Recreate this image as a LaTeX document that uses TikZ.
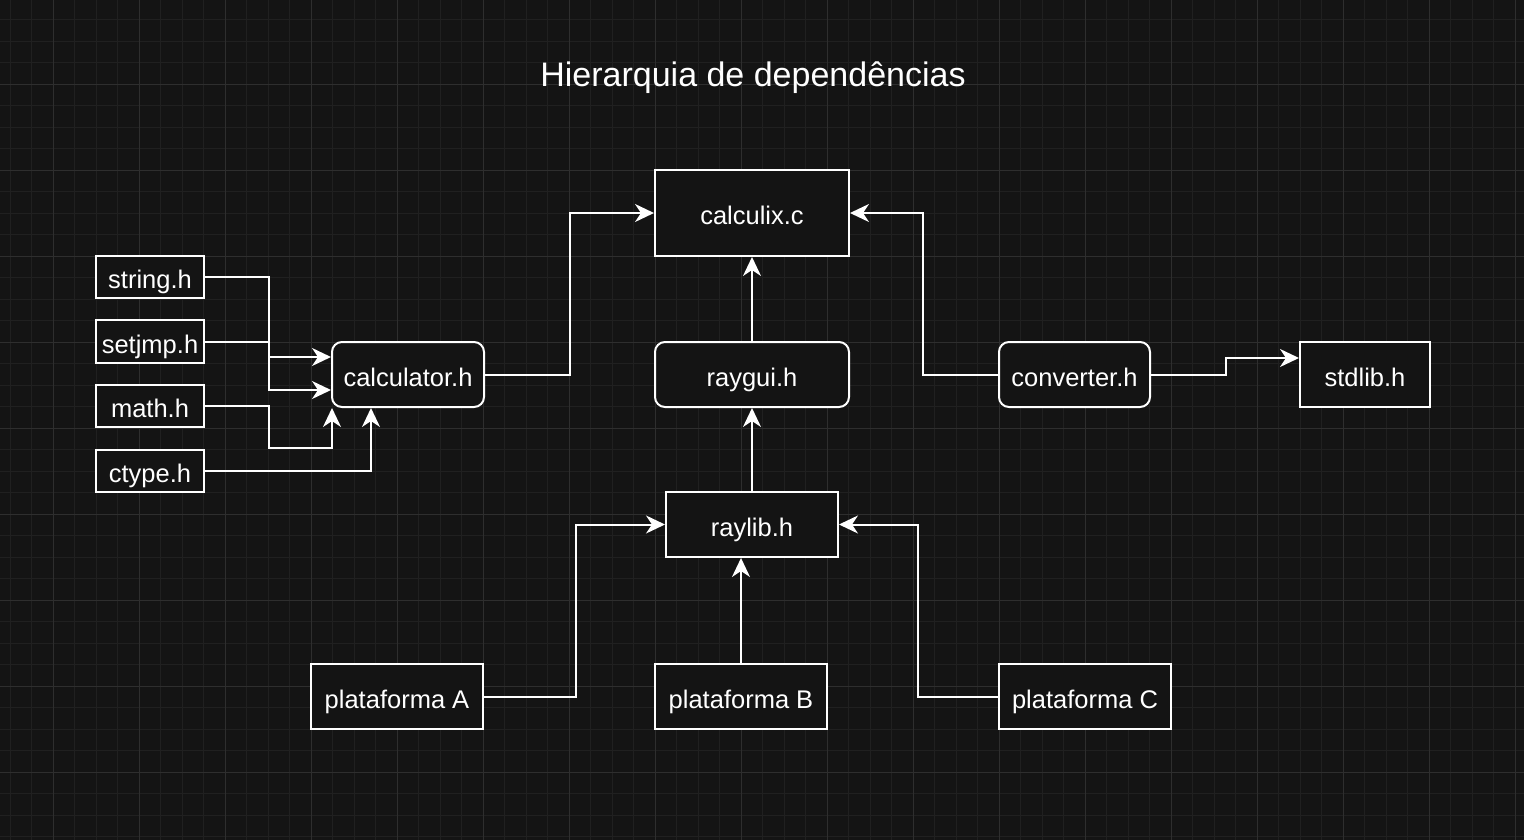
\documentclass[tikz,border=0pt]{standalone}
\usepackage{fontspec}
\setmainfont{Liberation Sans}
\usetikzlibrary{arrows.meta,calc}
\definecolor{bgc}{HTML}{141414}
\definecolor{minorc}{HTML}{202020}
\definecolor{majorc}{HTML}{2E2E2E}
\tikzset{
  box/.style={draw=white, line width=2pt, fill=bgc, text=white, inner sep=0pt,
    text height=25pt, text depth=2pt,
    font=\fontsize{25.5}{30}\selectfont},
  sq/.style={box},
  rnd/.style={box, rounded corners=10pt},
  arr/.style={draw=white, line width=2pt, -{Stealth[length=19pt,width=18pt,inset=6pt]}},
}
\begin{document}
\begin{tikzpicture}[x=1pt,y=-1pt]
\useasboundingbox (0,0) rectangle (1524,840);
\fill[bgc] (0,0) rectangle (1524,840);
% grid
\foreach \k in {-2,...,69}{
  \pgfmathsetmacro{\xx}{53.3+21.5*\k}
  \draw[minorc, line width=0.8pt] (\xx,0) -- (\xx,840);
}
\foreach \k in {-3,...,36}{
  \pgfmathsetmacro{\yy}{84.3+21.5*\k}
  \draw[minorc, line width=0.8pt] (0,\yy) -- (1524,\yy);
}
\foreach \k in {0,...,17}{
  \pgfmathsetmacro{\xx}{53.3+86*\k}
  \draw[majorc, line width=1pt] (\xx,0) -- (\xx,840);
}
\foreach \k in {-1,...,9}{
  \pgfmathsetmacro{\yy}{84.3+86*\k}
  \draw[majorc, line width=1pt] (0,\yy) -- (1524,\yy);
}
% title
\node[text=white, font=\fontsize{34}{40}\selectfont] (title) at (753,78) {Hierarquia de dependências};
% nodes
\node[sq, minimum width=194pt, minimum height=86pt] (calculix) at (752,213) {calculix.c};
\node[sq, minimum width=108pt, minimum height=42pt] (string) at (150,277) {string.h};
\node[sq, minimum width=108pt, minimum height=43pt] (setjmp) at (150,341.5) {setjmp.h};
\node[sq, minimum width=108pt, minimum height=42pt] (math) at (150,406) {math.h};
\node[sq, minimum width=108pt, minimum height=42pt] (ctype) at (150,471) {ctype.h};
\node[rnd, minimum width=152pt, minimum height=65pt] (calc) at (408,374.5) {calculator.h};
\node[rnd, minimum width=194pt, minimum height=65pt] (raygui) at (752,374.5) {raygui.h};
\node[rnd, minimum width=151pt, minimum height=65pt] (conv) at (1074.5,374.5) {converter.h};
\node[sq, minimum width=130pt, minimum height=65pt] (stdlib) at (1365,374.5) {stdlib.h};
\node[sq, minimum width=172pt, minimum height=65pt] (raylib) at (752,524.5) {raylib.h};
\node[sq, minimum width=172pt, minimum height=65pt] (platA) at (397,696.5) {plataforma A};
\node[sq, minimum width=172pt, minimum height=65pt] (platB) at (741,696.5) {plataforma B};
\node[sq, minimum width=172pt, minimum height=65pt] (platC) at (1085,696.5) {plataforma C};
% edges
\draw[arr] (string.east) -- ++(64,0) |- ([yshift=17.5pt]calc.west);
\draw[arr] (setjmp.east) -- ++(64,0) |- ([yshift=-15.5pt]calc.west);
\draw[arr] (math.east) -- ++(64,0) -- ++(0,42) -| ([xshift=1pt]calc.south west);
\draw[arr] (ctype.east) -| ([xshift=-37pt]calc.south);
\draw[arr] (calc.east) -- ++(85,0) |- (calculix.west);
\draw[arr] (raygui.north) -- (calculix.south);
\draw[arr] (raylib.north) -- (raygui.south);
\draw[arr] (conv.west) -- ++(-75,0) |- (calculix.east);
\draw[arr] (conv.east) -- ++(75,0) |- ([yshift=16.5pt]stdlib.west);
\draw[arr] (platA.east) -- ++(92,0) |- (raylib.west);
\draw[arr] (platB.north) -- (platB.north |- raylib.south);
\draw[arr] (platC.west) -- ++(-80,0) |- (raylib.east);
\end{tikzpicture}
\end{document}
